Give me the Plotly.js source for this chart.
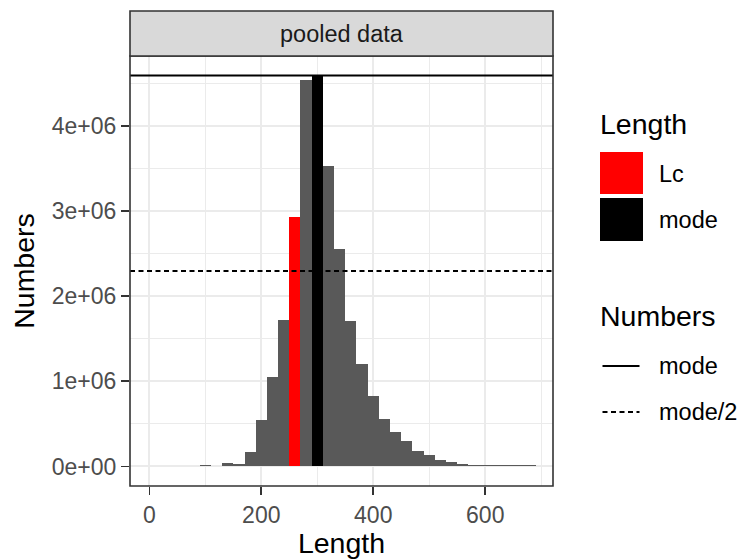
<!DOCTYPE html>
<html><head><meta charset="utf-8">
<script src="https://cdn.plot.ly/plotly-3.0.1.min.js"></script>
<style>html,body{margin:0;padding:0;background:#fff}</style>
</head><body><div id="chart" style="width:740px;height:559px"></div>
<script>
// ---- data ----
const lengthBins = [100,120,140,160,180,200,220,240,260,280,300,320,340,360,380,400,420,440,460,480,500,520,540,560,580,600,620,640,660,680];
const counts = [12000,0,39000,25000,168000,543000,1047000,1715000,2933000,4539000,4590000,3531000,2558000,1703000,1199000,824000,554000,402000,297000,179000,132000,74000,50000,27000,17000,12000,12000,12000,12000,12000];
const lcLength = 260;
const modeLength = 300;
const modeNumber = 4590000;
const xTickVals = [0,200,400,600];
const yTickVals = [0,1e6,2e6,3e6,4e6];
const yTickText = ["0e+00","1e+06","2e+06","3e+06","4e+06"];
const stripLabel = "pooled data";
const legendLengthTitle = "Length";
const legendLengthItems = ["Lc","mode"];
const legendNumbersTitle = "Numbers";
const legendNumbersItems = ["mode","mode/2"];

// ---- styles ----
const FONT = "Liberation Sans, Arial, Helvetica, sans-serif";
const W = 740, H = 559;
const M = {l:130, r:187, t:56, b:73};
const PW = W - M.l - M.r, PH = H - M.t - M.b;
const px = x => (x - M.l) / PW;
const py = y => (M.t + PH - y) / PH;

const barColors = lengthBins.map(x => x === lcLength ? "#FF0000" : (x === modeLength ? "#000000" : "#595959"));

const traces = [{
  type: "bar",
  x: lengthBins,
  y: counts,
  width: 20,
  marker: {color: barColors, line: {width: 0}},
  hoverinfo: "x+y",
  showlegend: false
}];

const shapes = [
  // mode lines
  {type:"line", xref:"paper", x0:0, x1:1, yref:"y", y0:modeNumber, y1:modeNumber, line:{color:"#000", width:2}, layer:"above"},
  {type:"line", xref:"paper", x0:0, x1:1, yref:"y", y0:modeNumber/2, y1:modeNumber/2, line:{color:"#000", width:2, dash:"5px,3.5px"}, layer:"above"},
  // panel border
  {type:"rect", xref:"paper", yref:"paper", x0:0, x1:1, y0:0, y1:1, line:{color:"#333333", width:1.6}, fillcolor:"rgba(0,0,0,0)", layer:"above"},
  // strip
  {type:"rect", xref:"paper", yref:"paper", x0:0, x1:1, y0:1, y1:py(11), line:{color:"#333333", width:1.6}, fillcolor:"#D9D9D9", layer:"above"},
  // legend keys
  {type:"rect", xref:"paper", yref:"paper", x0:px(600), x1:px(643), y0:py(194), y1:py(152), line:{width:0}, fillcolor:"#FF0000"},
  {type:"rect", xref:"paper", yref:"paper", x0:px(600), x1:px(643), y0:py(241), y1:py(198), line:{width:0}, fillcolor:"#000000"},
  {type:"line", xref:"paper", yref:"paper", x0:px(602.5), x1:px(639.5), y0:py(366), y1:py(366), line:{color:"#000", width:2}},
  {type:"line", xref:"paper", yref:"paper", x0:px(602.5), x1:px(639.5), y0:py(412), y1:py(412), line:{color:"#000", width:2, dash:"5px,3.5px"}}
];

const ann = (text, x, y, size, color, xanchor) => ({
  text: text, xref:"paper", yref:"paper", x: px(x), y: py(y), xanchor: xanchor || "left", yanchor:"middle",
  showarrow:false, font:{family:FONT, size:size, color:color || "#000"}
});

const annotations = [
  ann(stripLabel, M.l + PW/2, 34, 23.5, "#1A1A1A", "center"),
  ann(legendLengthTitle, 598, 124, 28.5),
  ann(legendLengthItems[0], 657, 174, 23.5),
  ann(legendLengthItems[1], 657, 220, 23.5),
  ann(legendNumbersTitle, 598, 316, 28.5),
  ann(legendNumbersItems[0], 657, 366, 23.5),
  ann(legendNumbersItems[1], 657, 412, 23.5)
];

const axisCommon = {
  showgrid: true, gridcolor: "#EBEBEB", gridwidth: 2,
  zeroline: false, showline: false,
  ticks: "outside", ticklen: 8, tickwidth: 1.6, tickcolor: "#333333",
  tickfont: {family: FONT, size: 23, color: "#4D4D4D"}
};

const layout = {
  width: W, height: H,
  margin: M,
  paper_bgcolor: "#FFFFFF", plot_bgcolor: "#FFFFFF",
  font: {family: FONT},
  showlegend: false,
  bargap: 0,
  xaxis: Object.assign({}, axisCommon, {
    range: [-34.5, 721],
    tickmode: "array", tickvals: xTickVals,
    minor: {dtick: 100, tick0: 0, showgrid: true, gridcolor: "#EBEBEB", gridwidth: 1, ticks: ""},
    title: {text: "Length", font: {family: FONT, size: 28.5, color: "#000"}, standoff: 6}
  }),
  yaxis: Object.assign({}, axisCommon, {
    range: [-0.05*modeNumber, 1.05*modeNumber],
    tickmode: "array", tickvals: yTickVals, ticktext: yTickText,
    minor: {dtick: 500000, tick0: 0, showgrid: true, gridcolor: "#EBEBEB", gridwidth: 1, ticks: ""},
    title: {text: "Numbers", font: {family: FONT, size: 28.5, color: "#000"}, standoff: 8}
  }),
  shapes: shapes,
  annotations: annotations
};

Plotly.newPlot("chart", traces, layout, {displayModeBar: false, staticPlot: true});
</script>
</body></html>
